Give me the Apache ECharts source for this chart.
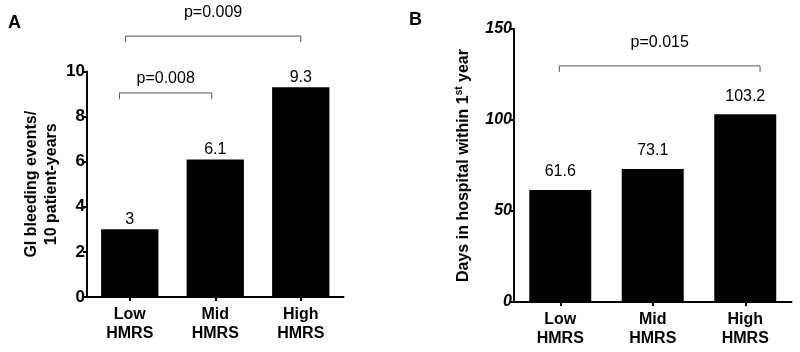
<!DOCTYPE html>
<html>
<head>
<meta charset="utf-8">
<script src="https://cdn.jsdelivr.net/npm/echarts@6/dist/echarts.min.js"></script>
<style>
  html, body { margin: 0; padding: 0; background: #fff; }
  #main { width: 800px; height: 352px; }
</style>
</head>
<body>
<div id="main"></div>
<script>
// categories and values
var categories = ['Low\nHMRS', 'Mid\nHMRS', 'High\nHMRS'];
var bleedingRate = [3, 6.1, 9.3];      // panel A, events / 10 patient-years
var hospitalDays = [61.6, 73.1, 103.2]; // panel B, days in hospital in 1st year
var ticksA = [0, 2, 4, 6, 8, 10];
var ticksB = [0, 50, 100, 150];

// significance brackets: panel, from / to category, level, drop, label level, text
var pText  = ['p=0.008', 'p=0.009', 'p=0.015'];
var pPanel = [0, 0, 1];
var pFrom  = [-0.12, -0.05, -0.01];
var pTo    = [0.96, 2.0, 2.16];
var pLevel = [9.05, 11.57, 129.7];
var pDrop  = [0.27, 0.27, 3.3];
var pTextAt = [9.67, 12.6, 142.3];

var FONT = 'Liberation Sans, Arial, sans-serif';

var dom = document.getElementById('main');
var myChart = echarts.init(dom);

var option = {
    animation: false,
    textStyle: { fontFamily: FONT, color: '#000' },
    grid: [
        { left: 87, width: 256.5, top: 71.5, bottom: 55 },
        { left: 514, width: 277.5, top: 29, bottom: 50 }
    ],
    xAxis: [0, 1].map(function (i) {
        return {
            type: 'category',
            gridIndex: i,
            data: categories,
            axisLine: { lineStyle: { color: '#000', width: 2 } },
            axisTick: { show: true, alignWithLabel: true, length: 4, lineStyle: { color: '#000', width: 2 } },
            axisLabel: {
                color: '#000', fontFamily: FONT, fontWeight: 'bold', fontSize: 16,
                lineHeight: 19, margin: 8
            }
        };
    }),
    yAxis: [
        {
            type: 'value', gridIndex: 0,
            min: ticksA[0], max: ticksA[ticksA.length - 1], interval: 2,
            name: 'GI bleeding events/\n10 patient-years',
            nameLocation: 'middle', nameRotate: 90, nameGap: 25,
            nameTextStyle: { fontFamily: FONT, fontWeight: 'bold', fontSize: 16, lineHeight: 20, color: '#000' },
            axisLine: { show: true, lineStyle: { color: '#000', width: 2 } },
            axisTick: { show: true, length: 4, lineStyle: { color: '#000', width: 2 } },
            axisLabel: { color: '#000', fontFamily: FONT, fontWeight: 'bold', fontSize: 17, margin: 2 },
            splitLine: { show: false }
        },
        {
            type: 'value', gridIndex: 1,
            min: ticksB[0], max: ticksB[ticksB.length - 1], interval: 50,
            name: '{t|Days in hospital within 1}{s|st}{t| year}',
            nameLocation: 'middle', nameRotate: 90, nameGap: 40,
            nameTextStyle: {
                fontFamily: FONT, fontWeight: 'bold', fontSize: 16, color: '#000',
                rich: {
                    t: { fontFamily: FONT, fontWeight: 'bold', fontSize: 16, color: '#000', lineHeight: 20 },
                    s: { fontFamily: FONT, fontWeight: 'bold', fontSize: 10, color: '#000', verticalAlign: 'top', lineHeight: 20 }
                }
            },
            axisLine: { show: true, lineStyle: { color: '#000', width: 2 } },
            axisTick: { show: true, length: 5, lineStyle: { color: '#000', width: 2 } },
            axisLabel: { color: '#000', fontFamily: FONT, fontWeight: 'bold', fontStyle: 'italic', fontSize: 16, margin: 2 },
            splitLine: { show: false }
        }
    ],
    series: [
        {
            name: 'GI bleeding',
            type: 'bar',
            xAxisIndex: 0, yAxisIndex: 0,
            barWidth: '67%',
            itemStyle: { color: '#000' },
            label: { show: true, position: 'top', distance: 2, color: '#000', fontFamily: FONT, fontSize: 16 },
            data: bleedingRate
        },
        {
            name: 'Days in hospital',
            type: 'bar',
            xAxisIndex: 1, yAxisIndex: 1,
            barWidth: '67%',
            itemStyle: { color: '#000' },
            label: { show: true, position: 'top', distance: 10, color: '#000', fontFamily: FONT, fontSize: 16 },
            data: hospitalDays
        }
    ]
};

myChart.setOption(option);

// place the brackets through the axes' own scales
function toPx(panel, catPos, value) {
    var c0 = myChart.convertToPixel({ gridIndex: panel }, [0, value]);
    var c1 = myChart.convertToPixel({ gridIndex: panel }, [1, value]);
    return [c0[0] + catPos * (c1[0] - c0[0]), c0[1]];
}

var graphics = [
    { type: 'text', left: 8, top: 14, style: { text: 'A', font: 'bold 18px ' + FONT, fill: '#000' } },
    { type: 'text', left: 409, top: 11, style: { text: 'B', font: 'bold 18px ' + FONT, fill: '#000' } }
];

pText.forEach(function (txt, i) {
    var a = toPx(pPanel[i], pFrom[i], pLevel[i]);
    var b = toPx(pPanel[i], pTo[i], pLevel[i]);
    var d = toPx(pPanel[i], pFrom[i], pLevel[i] - pDrop[i]);
    var t = toPx(pPanel[i], (pFrom[i] + pTo[i]) / 2, pTextAt[i]);
    graphics.push({
        type: 'polyline',
        shape: { points: [[a[0], d[1]], [a[0], a[1]], [b[0], b[1]], [b[0], d[1]]] },
        style: { stroke: '#555', lineWidth: 1, fill: null }
    });
    graphics.push({
        type: 'text',
        x: t[0], y: t[1],
        style: { text: txt, font: '16px ' + FONT, fill: '#000', align: 'center', verticalAlign: 'middle' }
    });
});

myChart.setOption({ graphic: graphics });
</script>
</body>
</html>
